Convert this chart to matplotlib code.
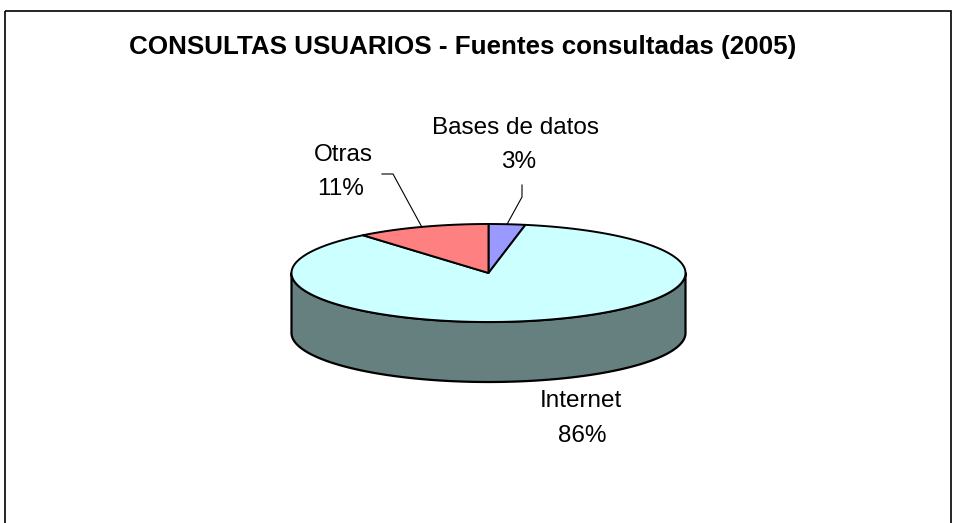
import numpy as np
import matplotlib
matplotlib.use("Agg")
import matplotlib.pyplot as plt
from matplotlib.patches import Polygon, Rectangle

plt.rcParams['font.family'] = ['Liberation Sans', 'DejaVu Sans']

title = "CONSULTAS USUARIOS - Fuentes consultadas (2005)"
categories = ["Bases de datos", "Internet", "Otras"]
values = [3, 86, 11]
top_colors = ["#9999FF", "#CCFFFF", "#FF8080"]
side_colors = ["#4C4C80", "#668080", "#804040"]

W, H = 957, 523
fig = plt.figure(figsize=(W / 100, H / 100), dpi=100)
ax = fig.add_axes([0, 0, 1, 1])
ax.set_xlim(0, W)
ax.set_ylim(H, 0)
ax.axis("off")

# chart frame
ax.add_patch(Rectangle((5, 11), 946, 530, fill=False, edgecolor="black", lw=1.2))

cx, cy, a, b, depth = 488.5, 273, 197, 49, 60

def ell(th, dy=0):
    th = np.radians(th)
    return np.column_stack([cx + a * np.sin(th), cy - b * np.cos(th) + dy])

fr = np.array(values, dtype=float) / sum(values)
starts = np.concatenate([[0], np.cumsum(fr)[:-1]]) * 360
ends = np.cumsum(fr) * 360

# side walls (front half: angles 90..270)
for s, e, c in zip(starts, ends, side_colors):
    lo, hi = max(s, 90), min(e, 270)
    if hi <= lo:
        continue
    th = np.linspace(lo, hi, 200)
    pts = np.vstack([ell(th), ell(th[::-1], depth)])
    ax.add_patch(Polygon(pts, closed=True, facecolor=c, edgecolor="black", lw=1.6, joinstyle="round"))

# top surfaces
for s, e, c in zip(starts, ends, top_colors):
    th = np.linspace(s, e, 300)
    pts = np.vstack([[cx, cy], ell(th)])
    ax.add_patch(Polygon(pts, closed=True, facecolor=c, edgecolor="black", lw=1.4, joinstyle="round"))

# title
ax.text(463, 47, title, ha="center", va="center", fontsize=18.7, fontweight="bold")

lab_fs = 17.5
mid = (starts + ends) / 2
# Bases de datos
p = ell([mid[0]])[0]
ax.text(515, 128, f"{categories[0]}", ha="center", va="center", fontsize=lab_fs)
ax.text(519, 162, f"{values[0]}%", ha="center", va="center", fontsize=lab_fs)
ax.plot([522, 522, p[0]], [185, 197, p[1]], color="black", lw=0.8)
# Otras
p = ell([mid[2]])[0]
ax.text(343, 155, f"{categories[2]}", ha="center", va="center", fontsize=lab_fs)
ax.text(341, 189, f"{values[2]}%", ha="center", va="center", fontsize=lab_fs)
ax.plot([382, 393, p[0]], [174, 174, p[1]], color="black", lw=0.8)
# Internet
ax.text(581, 401, f"{categories[1]}", ha="center", va="center", fontsize=lab_fs)
ax.text(582, 436, f"{values[1]}%", ha="center", va="center", fontsize=lab_fs)

fig.savefig("out.png", dpi=100)
